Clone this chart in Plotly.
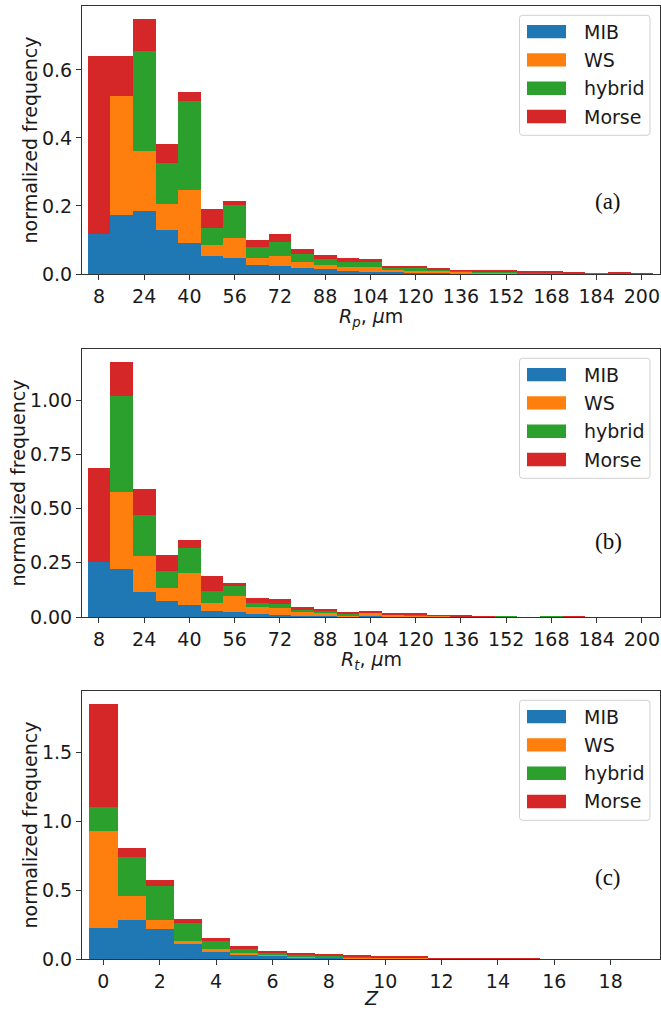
import plotly.graph_objects as go

# Bin centres (bin width 8 um for radii, 1 for Z)
rp_bins = [8, 16, 24, 32, 40, 48, 56, 64, 72, 80, 88, 96, 104, 112, 120,
           128, 136, 144, 152, 160, 168, 176, 184, 192, 200]
rt_bins = rp_bins
z_bins = list(range(20))

series_names = ["MIB", "WS", "hybrid", "Morse"]
series_colors = ["#1f77b4", "#ff7f0e", "#2ca02c", "#d62728"]

# (a) R_p histogram, stacked contributions
mib_a = [0.119, 0.173, 0.186, 0.130, 0.090, 0.052, 0.047, 0.027, 0.025, 0.019, 0.014, 0.010, 0.007,
         0.005, 0.004, 0.003, 0.002, 0.002, 0.001, 0.001, 0.001, 0.000, 0.000, 0.000, 0.000]
ws_a = [0.000, 0.350, 0.177, 0.075, 0.158, 0.033, 0.060, 0.020, 0.027, 0.016, 0.013, 0.012, 0.013,
        0.007, 0.006, 0.005, 0.004, 0.003, 0.003, 0.001, 0.001, 0.001, 0.000, 0.001, 0.001]
hyb_a = [0.000, 0.000, 0.292, 0.121, 0.262, 0.050, 0.095, 0.033, 0.043, 0.024, 0.017, 0.013, 0.015,
         0.008, 0.008, 0.006, 0.003, 0.003, 0.003, 0.002, 0.002, 0.001, 0.001, 0.001, 0.000]
mor_a = [0.523, 0.117, 0.095, 0.057, 0.025, 0.055, 0.012, 0.021, 0.023, 0.015, 0.012, 0.012, 0.008,
         0.005, 0.006, 0.003, 0.002, 0.003, 0.003, 0.002, 0.002, 0.001, 0.000, 0.001, 0.001]

# (b) R_t histogram
mib_b = [0.255, 0.223, 0.115, 0.072, 0.054, 0.026, 0.022, 0.012, 0.008, 0.005, 0.004, 0.003, 0.003,
         0.002, 0.001, 0.001, 0.000, 0.000, 0.000, 0.000, 0.000, 0.000, 0.000, 0.000, 0.000]
ws_b = [0.000, 0.354, 0.167, 0.062, 0.149, 0.040, 0.073, 0.033, 0.032, 0.017, 0.018, 0.006, 0.017,
        0.010, 0.008, 0.006, 0.004, 0.002, 0.001, 0.000, 0.000, 0.000, 0.000, 0.000, 0.000]
hyb_b = [0.000, 0.441, 0.190, 0.077, 0.114, 0.052, 0.047, 0.021, 0.022, 0.012, 0.009, 0.005, 0.001,
         0.000, 0.001, 0.000, 0.000, 0.000, 0.001, 0.000, 0.002, 0.000, 0.000, 0.000, 0.000]
mor_b = [0.433, 0.159, 0.120, 0.074, 0.038, 0.071, 0.016, 0.023, 0.021, 0.012, 0.007, 0.006, 0.005,
         0.003, 0.004, 0.001, 0.001, 0.002, 0.000, 0.000, 0.000, 0.002, 0.000, 0.000, 0.000]

# (c) Z histogram
mib_c = [0.225, 0.286, 0.218, 0.111, 0.058, 0.031, 0.022, 0.012, 0.010, 0.006,
         0.004, 0.002, 0.001, 0.001, 0.000, 0.000, 0.000, 0.000, 0.000, 0.000]
ws_c = [0.702, 0.171, 0.063, 0.020, 0.012, 0.010, 0.008, 0.008, 0.004, 0.004,
        0.004, 0.006, 0.004, 0.004, 0.002, 0.001, 0.000, 0.000, 0.000, 0.000]
hyb_c = [0.176, 0.286, 0.246, 0.128, 0.061, 0.032, 0.015, 0.011, 0.008, 0.006,
         0.004, 0.002, 0.001, 0.001, 0.001, 0.000, 0.000, 0.000, 0.000, 0.000]
mor_c = [0.750, 0.065, 0.049, 0.031, 0.024, 0.019, 0.015, 0.010, 0.009, 0.008,
         0.005, 0.005, 0.001, 0.001, 0.003, 0.003, 0.000, 0.000, 0.000, 0.000]

rp_ticks = list(range(8, 201, 16))
z_ticks = list(range(0, 19, 2))

panels = [
    dict(x=rp_bins, series=[mib_a, ws_a, hyb_a, mor_a], xa="x", ya="y"),
    dict(x=rt_bins, series=[mib_b, ws_b, hyb_b, mor_b], xa="x2", ya="y2"),
    dict(x=z_bins, series=[mib_c, ws_c, hyb_c, mor_c], xa="x3", ya="y3"),
]

fig = go.Figure()
for p in panels:
    for name, color, vals in zip(series_names, series_colors, p["series"]):
        fig.add_trace(go.Bar(
            x=p["x"], y=vals, name=name, marker=dict(color=color, line=dict(width=0)),
            xaxis=p["xa"], yaxis=p["ya"], showlegend=False,
        ))

FONT = "DejaVu Sans"
TXT = "#1a1a1a"
W, H = 661, 1010
ML, MR, MT, MB = 82, 1, 6, 51
PW, PH = W - ML - MR, H - MT - MB


def px(xp):
    """horizontal pixel -> paper fraction"""
    return (xp - ML) / PW


def py(yp):
    """vertical pixel (from top) -> paper fraction"""
    return 1 - (yp - MT) / PH


axis_common = dict(
    showline=True, linecolor="#333333", linewidth=1, mirror=True,
    ticks="outside", ticklen=5, tickwidth=1, tickcolor="#333333",
    showgrid=False, zeroline=False,
    tickfont=dict(family=FONT, size=19, color=TXT),
)

# panel frames in pixels (top, bottom)
frames = [(6, 274), (349, 617), (691, 959)]
xlabels = ["<i>R</i><sub><i>p</i></sub>, <i>μ</i>m",
           "<i>R</i><sub><i>t</i></sub>, <i>μ</i>m",
           "<i>Z</i>"]
xlabel_gap = [43, 43, 39]
ylabel_x = [29.5, 17.5, 29.5]
tags = ["(a)", "(b)", "(c)"]
tag_y = [201, 541, 877]

layout = dict(
    width=W, height=H,
    margin=dict(l=ML, r=MR, t=MT, b=MB),
    paper_bgcolor="white", plot_bgcolor="white",
    barmode="stack", bargap=0,
    font=dict(family=FONT, size=19, color=TXT),
    showlegend=False,
)

xcfg = [
    dict(range=[2, 206.4], tickvals=rp_ticks),
    dict(range=[2, 206.4], tickvals=rp_ticks),
    dict(range=[-0.76, 19.75], tickvals=z_ticks),
]
ycfg = [
    dict(range=[0, 0.788], tickvals=[0, 0.2, 0.4, 0.6], tickformat=".1f"),
    dict(range=[0, 1.235], tickvals=[0, 0.25, 0.5, 0.75, 1.0], tickformat=".2f"),
    dict(range=[0, 1.945], tickvals=[0, 0.5, 1.0, 1.5], tickformat=".1f"),
]

for i in range(3):
    sfx = "" if i == 0 else str(i + 1)
    top, bot = frames[i]
    layout["xaxis" + sfx] = dict(
        axis_common, domain=[0, 1], anchor="y" + sfx,
        range=xcfg[i]["range"], tickvals=xcfg[i]["tickvals"],
    )
    layout["yaxis" + sfx] = dict(
        axis_common, domain=[py(bot), py(top)], anchor="x" + sfx,
        range=ycfg[i]["range"], tickvals=ycfg[i]["tickvals"], tickformat=ycfg[i]["tickformat"],
    )

fig.update_layout(**layout)

shapes = []
for i in range(3):
    top, bot = frames[i]
    # axis titles
    fig.add_annotation(text=xlabels[i], xref="paper", yref="paper",
                       x=0.5, y=py(bot + xlabel_gap[i]), xanchor="center", yanchor="middle",
                       showarrow=False, font=dict(family=FONT, size=19, color=TXT))
    fig.add_annotation(text="normalized frequency", xref="paper", yref="paper",
                       x=px(ylabel_x[i]), y=py((top + bot) / 2), xanchor="center", yanchor="middle",
                       textangle=-90, showarrow=False, font=dict(family=FONT, size=19, color=TXT))
    # panel tag
    fig.add_annotation(text=tags[i], xref="paper", yref="paper",
                       x=px(608), y=py(tag_y[i]), xanchor="center", yanchor="middle",
                       showarrow=False, font=dict(family="Liberation Serif", size=23, color="#111111"))

    # legend box with rounded corners
    lx0, lx1 = 519.5, 650
    ly0 = top + 9.3
    ly1 = ly0 + 120
    r = 3
    X0, X1 = px(lx0), px(lx1)
    Y0, Y1 = py(ly0), py(ly1)
    rx, ry = r / PW, r / PH
    path = (f"M{X0 + rx},{Y0} L{X1 - rx},{Y0} Q{X1},{Y0} {X1},{Y0 - ry} "
            f"L{X1},{Y1 + ry} Q{X1},{Y1} {X1 - rx},{Y1} L{X0 + rx},{Y1} "
            f"Q{X0},{Y1} {X0},{Y1 + ry} L{X0},{Y0 - ry} Q{X0},{Y0} {X0 + rx},{Y0} Z")
    shapes.append(dict(type="path", path=path, xref="paper", yref="paper",
                       line=dict(color="#d0d0d0", width=1), fillcolor="rgba(255,255,255,0.85)",
                       layer="above"))
    for k, (name, color) in enumerate(zip(series_names, series_colors)):
        cy = ly0 + 16.3 + 28.3 * k
        shapes.append(dict(type="rect", xref="paper", yref="paper",
                           x0=px(527), x1=px(566), y0=py(cy - 6.7), y1=py(cy + 6.7),
                           fillcolor=color, line=dict(width=0), layer="above"))
        fig.add_annotation(text=name, xref="paper", yref="paper",
                           x=px(581.5), y=py(cy), xanchor="left", yanchor="middle",
                           showarrow=False, font=dict(family=FONT, size=19, color=TXT))

fig.update_layout(shapes=shapes)

fig.write_html("out.html")
